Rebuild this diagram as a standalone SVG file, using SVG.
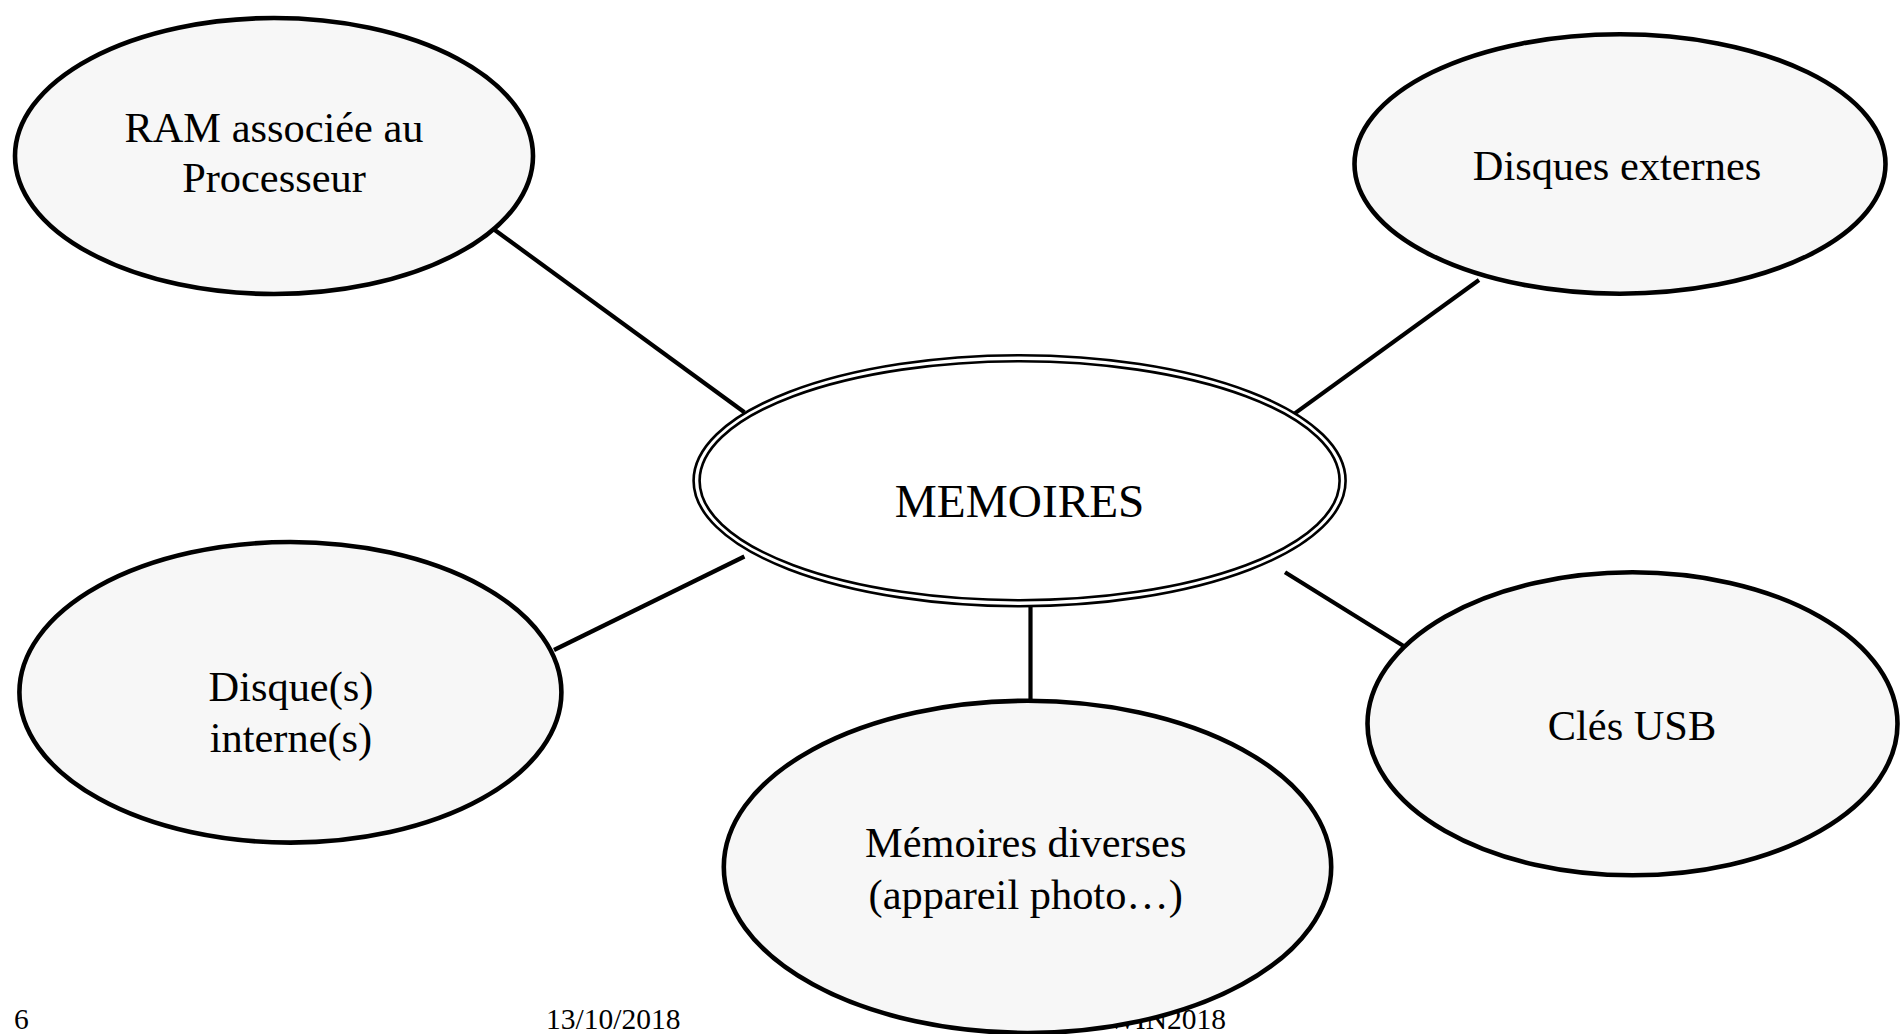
<svg xmlns="http://www.w3.org/2000/svg" width="1901" height="1034" viewBox="0 0 1901 1034">
<style>
.node{fill:#f7f7f7;stroke:#000;stroke-width:4.6}
.lbl{font-family:"Liberation Serif","Times New Roman",serif;font-size:42.4px;fill:#000;text-anchor:middle}
.foot{font-family:"Liberation Serif","Times New Roman",serif;font-size:29.5px;fill:#000}
.conn line{stroke:#000;stroke-width:4.2}
</style>
<rect width="1901" height="1034" fill="#fff"/>
<g id="footer">
<text class="foot" x="14" y="1029">6</text>
<text class="foot" x="546" y="1029">13/10/2018</text>
<text class="foot" x="1226" y="1029" text-anchor="end">WIN2018</text>
</g>
<g id="connectors" class="conn">
<line x1="488.6" y1="225.5" x2="744.4" y2="412.2"/>
<line x1="1479" y1="280" x2="1294.8" y2="413.4"/>
<line x1="554" y1="650" x2="744.4" y2="556.5"/>
<line x1="1030.5" y1="606.2" x2="1030.5" y2="700.8"/>
<line x1="1285" y1="572.3" x2="1404" y2="646.2"/>
</g>
<g id="ram">
<ellipse class="node" cx="274" cy="156" rx="259" ry="138"/>
<text class="lbl" x="274" y="141.5">RAM associée au</text>
<text class="lbl" x="274" y="191.5">Processeur</text>
</g>
<g id="disques-externes">
<ellipse class="node" cx="1620" cy="164" rx="265.5" ry="129.7"/>
<text class="lbl" x="1617" y="180">Disques externes</text>
</g>
<g id="memoires">
<ellipse cx="1019.6" cy="480.7" rx="326" ry="125.5" fill="#fff" stroke="#000" stroke-width="2.6"/>
<ellipse cx="1019.6" cy="480.7" rx="320" ry="119.5" fill="none" stroke="#000" stroke-width="2.6"/>
<text class="lbl" x="1019.6" y="516.5" style="font-size:47.3px">MEMOIRES</text>
</g>
<g id="disques-internes">
<ellipse class="node" cx="290.4" cy="692.3" rx="271" ry="150.3"/>
<text class="lbl" x="291" y="700.8">Disque(s)</text>
<text class="lbl" x="291" y="751.7">interne(s)</text>
</g>
<g id="memoires-diverses">
<ellipse class="node" cx="1027.5" cy="866.9" rx="303.7" ry="166.1"/>
<text class="lbl" x="1025.7" y="857">Mémoires diverses</text>
<text class="lbl" x="1025.7" y="909.3">(appareil photo…)</text>
</g>
<g id="cles-usb">
<ellipse class="node" cx="1632.5" cy="723.8" rx="265" ry="151.5"/>
<text class="lbl" x="1632" y="739.6">Clés USB</text>
</g>
</svg>
